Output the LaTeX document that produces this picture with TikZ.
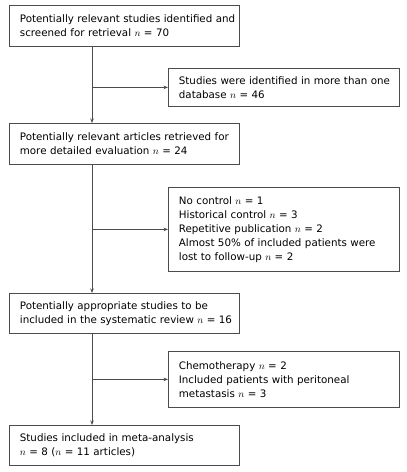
\documentclass[tikz,border=0pt]{standalone}
\usepackage{fontspec}
\setmainfont{DejaVu Sans}
\usetikzlibrary{arrows.meta}
\begin{document}
\begin{tikzpicture}[x=1pt,y=-1pt,
  box/.style={draw=black!70, line width=0.8pt, anchor=north west, inner xsep=10.5pt, inner ysep=0pt,
    align=left, text width=#1, font=\fontsize{10.3}{14}\selectfont},
  conn/.style={draw=black!70, line width=0.8pt, -{Stealth[length=4.5pt,width=3.5pt]}}]
\useasboundingbox (0,0) rectangle (407,472);
\node[box=209pt, minimum height=41pt] (b1) at (9,5) {\mbox{Potentially relevant studies identified and}\\screened for retrieval $n$ = 70};
\node[box=210pt, minimum height=38pt] (b2) at (168,68) {\mbox{Studies were identified in more than one}\\database $n$ = 46};
\node[box=209pt, minimum height=41pt] (b3) at (9,123) {\mbox{Potentially relevant articles retrieved for}\\more detailed evaluation $n$ = 24};
\node[box=210pt, minimum height=84pt] (b4) at (168,187) {No control $n$ = 1\\Historical control $n$ = 3\\Repetitive publication $n$ = 2\\\mbox{Almost 50\% of included patients were}\\lost to follow-up $n$ = 2};
\node[box=209pt, minimum height=40pt] (b5) at (9,293) {Potentially appropriate studies to be\\\mbox{included in the systematic review $n$ = 16}};
\node[box=210pt, minimum height=56pt] (b6) at (168,351) {Chemotherapy $n$ = 2\\Included patients with peritoneal\\metastasis $n$ = 3};
\node[box=209pt, minimum height=40pt] (b7) at (9,425) {Studies included in meta-analysis\\$n$ = 8 ($n$ = 11 articles)};
\coordinate (v) at (92,0);
\draw[conn] (b1.south -| v) -- (b3.north -| v);
\draw[conn] (v |- b2.west) -- (b2.west);
\draw[conn] (b3.south -| v) -- (b5.north -| v);
\draw[conn] (v |- b4.west) -- (b4.west);
\draw[conn] (b5.south -| v) -- (b7.north -| v);
\draw[conn] (v |- b6.west) -- (b6.west);
\end{tikzpicture}
\end{document}
